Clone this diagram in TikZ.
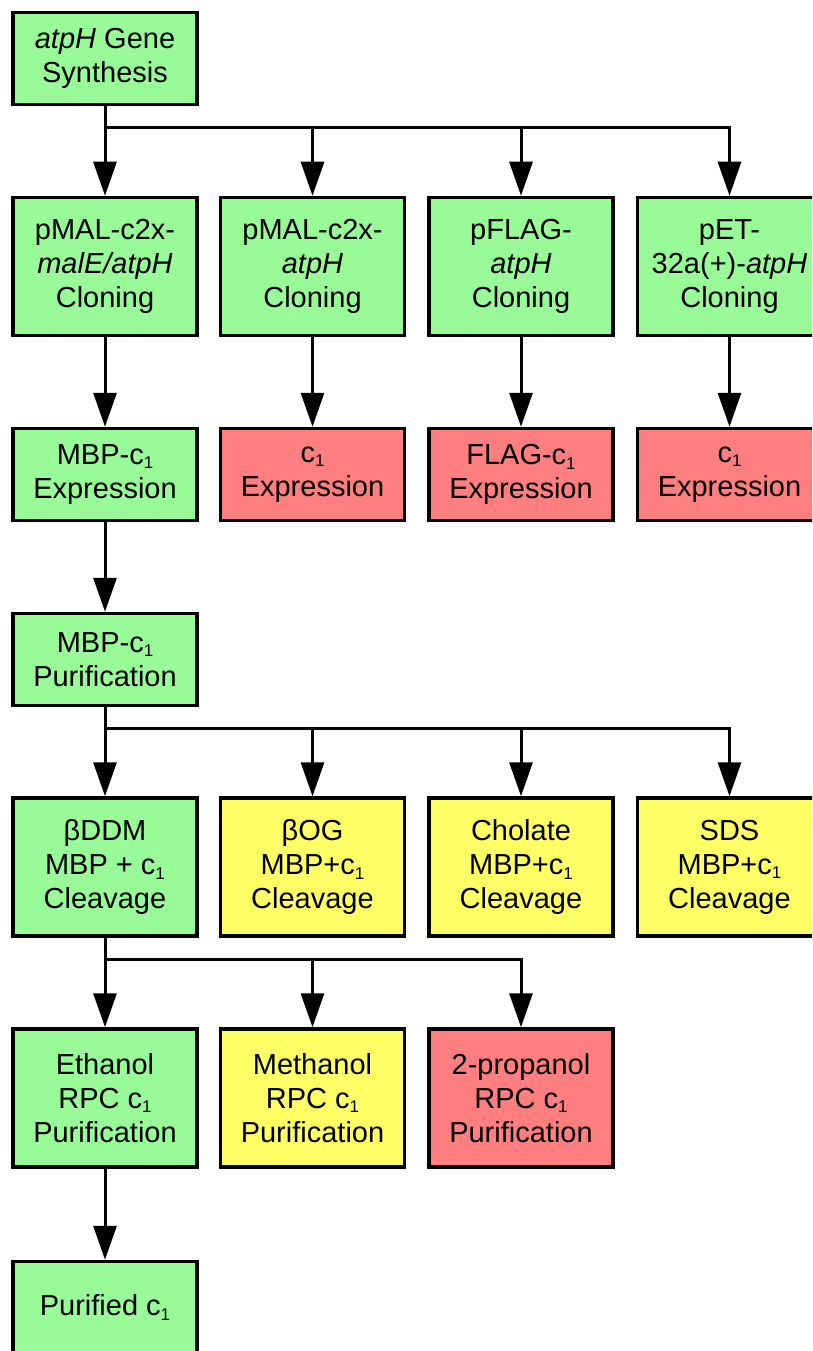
\documentclass[tikz,border=0pt]{standalone}
\usepackage{fontspec}
\setmainfont{Liberation Sans}
\usetikzlibrary{arrows.meta,calc}
\definecolor{gbox}{RGB}{152,251,152}
\definecolor{rbox}{RGB}{255,126,128}
\definecolor{ybox}{RGB}{255,255,102}
\newcommand{\subone}{{\fontsize{17}{17}\selectfont\raisebox{-4.5pt}{1}}}
\tikzset{
  box/.style={draw=black, line width=3.5pt, rectangle, minimum width=184pt, inner sep=0pt,
    align=center, font=\fontsize{29}{34}\selectfont},
  two/.style={box, minimum height=92pt},
  three/.style={box, minimum height=138pt},
  gr/.style={fill=gbox}, rd/.style={fill=rbox}, yl/.style={fill=ybox},
  conn/.style={line width=3pt, line cap=rect, line join=miter},
  arr/.style={line width=3pt, -{Triangle[width=23pt,length=34pt]}}
}
\begin{document}
\begin{tikzpicture}[x=1pt,y=-1pt]
\useasboundingbox (0,0) rectangle (812,1351);
\clip (0,0) rectangle (812,1351);
% row 1
\node[two,gr] (a1) at (105,58.5) {\textit{atpH} Gene\\Synthesis};
% row 2
\node[three,gr] (b1) at (105,266.5) {pMAL-c2x-\\\textit{malE/atpH}\\Cloning};
\node[three,gr] (b2) at (312.5,266.5) {pMAL-c2x-\\\textit{atpH}\\Cloning};
\node[three,gr] (b3) at (521,266.5) {pFLAG-\\\textit{atpH}\\Cloning};
\node[three,gr] (b4) at (729.5,266.5) {pET-\\32a(+)-\textit{atpH}\\Cloning};
% row 3
\node[two,gr] (c1) at (105,474.5) {MBP-c\subone\\Expression};
\node[two,rd] (c2) at (312.5,474.5) {c\subone\\Expression};
\node[two,rd] (c3) at (521,474.5) {FLAG-c\subone\\Expression};
\node[two,rd] (c4) at (729.5,474.5) {c\subone\\Expression};
% row 4
\node[two,gr] (d1) at (105,659.5) {MBP-c\subone\\Purification};
% row 5
\node[three,gr] (e1) at (105,867) {βDDM\\MBP + c\subone\\Cleavage};
\node[three,yl] (e2) at (312.5,867) {βOG\\MBP+c\subone\\Cleavage};
\node[three,yl] (e3) at (521,867) {Cholate\\MBP+c\subone\\Cleavage};
\node[three,yl] (e4) at (729.5,867) {SDS\\MBP+c\subone\\Cleavage};
% row 6
\node[three,gr] (f1) at (105,1098) {Ethanol\\RPC c\subone\\Purification};
\node[three,yl] (f2) at (312.5,1098) {Methanol\\RPC c\subone\\Purification};
\node[three,rd] (f3) at (521,1098) {2-propanol\\RPC c\subone\\Purification};
% row 7
\node[two,gr] (g1) at (105,1307.5) {Purified c\subone};
% branch levels
\coordinate (br1) at (0,128);
\coordinate (br2) at (0,728);
\coordinate (br3) at (0,959);
% connectors from a1
\draw[conn] (a1.south |- br1) -- (b4.north |- br1);
\draw[arr] (a1.south) -- (b1.north);
\draw[arr] (b2.north |- br1) -- (b2.north);
\draw[arr] (b3.north |- br1) -- (b3.north);
\draw[arr] (b4.north |- br1) -- (b4.north);
% cloning to expression
\draw[arr] (b1.south) -- (c1.north);
\draw[arr] (b2.south) -- (c2.north);
\draw[arr] (b3.south) -- (c3.north);
\draw[arr] (b4.south) -- (c4.north);
% expression to purification
\draw[arr] (c1.south) -- (d1.north);
% purification to cleavage
\draw[conn] (d1.south |- br2) -- (e4.north |- br2);
\draw[arr] (d1.south) -- (e1.north);
\draw[arr] (e2.north |- br2) -- (e2.north);
\draw[arr] (e3.north |- br2) -- (e3.north);
\draw[arr] (e4.north |- br2) -- (e4.north);
% cleavage to RPC
\draw[conn] (e1.south |- br3) -- (f3.north |- br3);
\draw[arr] (e1.south) -- (f1.north);
\draw[arr] (f2.north |- br3) -- (f2.north);
\draw[arr] (f3.north |- br3) -- (f3.north);
% RPC to purified
\draw[arr] (f1.south) -- (g1.north);
\end{tikzpicture}
\end{document}
